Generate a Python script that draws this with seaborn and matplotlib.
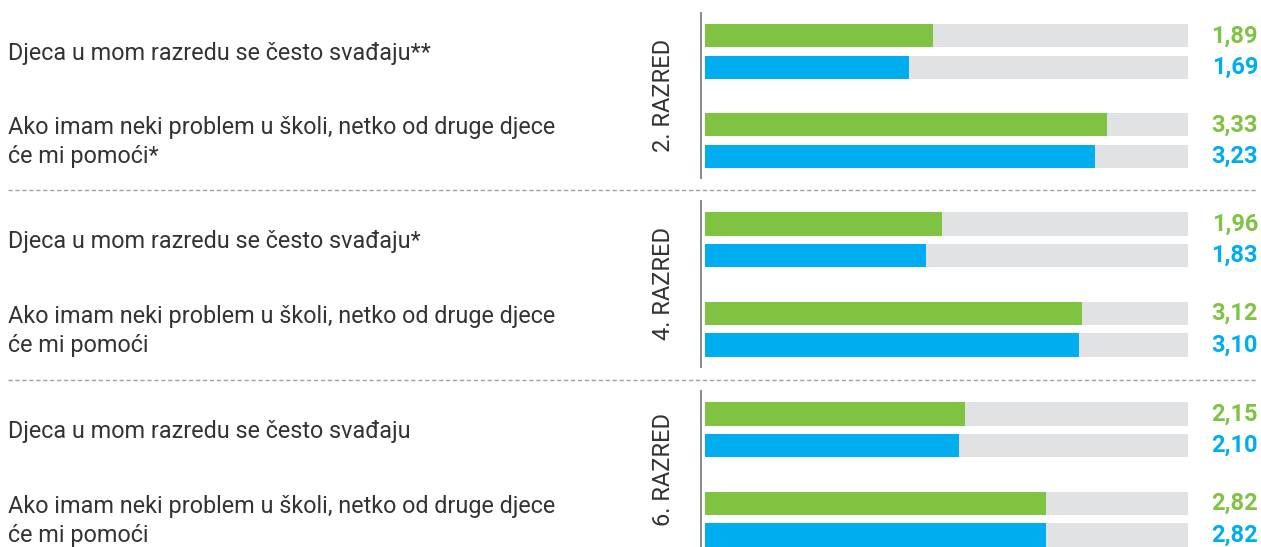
import matplotlib
matplotlib.use("Agg")
import matplotlib.pyplot as plt
import matplotlib.transforms as mtransforms
from matplotlib.lines import Line2D
import pandas as pd
import seaborn as sns

grades = ["2. RAZRED", "4. RAZRED", "6. RAZRED"]
questions = [
    ["Djeca u mom razredu se često svađaju**",
     "Ako imam neki problem u školi, netko od druge djece\nće mi pomoći*"],
    ["Djeca u mom razredu se često svađaju*",
     "Ako imam neki problem u školi, netko od druge djece\nće mi pomoći"],
    ["Djeca u mom razredu se često svađaju",
     "Ako imam neki problem u školi, netko od druge djece\nće mi pomoći"],
]
green_values = [[1.89, 3.33], [1.96, 3.12], [2.15, 2.82]]
blue_values = [[1.69, 3.23], [1.83, 3.10], [2.10, 2.82]]
series = ["A", "B"]
scale_max = 4

GREEN = "#80c242"
BLUE = "#00aeef"
GREY = "#e1e2e4"
TEXT = "#333333"

plt.rcParams["font.family"] = ["Roboto", "DejaVu Sans"]

W, H = 1261, 547
fig = plt.figure(figsize=(W / 100, H / 100), dpi=100)

# pixel layout of the three panels (top, bottom)
panels = [(13, 178), (201, 367), (391, 557)]
x_left, x_right = 701, 1188
x0_px = 705  # where value 0 sits
px_per_unit = (x_right - x0_px) / scale_max

for g, (top, bottom) in enumerate(panels):
    ax = fig.add_axes([x_left / W, 1 - bottom / H, (x_right - x_left) / W, (bottom - top) / H])
    df = pd.DataFrame({
        "question": [questions[g][0], questions[g][0], questions[g][1], questions[g][1]],
        "series": series * 2,
        "value": [green_values[g][0], blue_values[g][0], green_values[g][1], blue_values[g][1]],
    })
    df["full"] = scale_max

    # grey track behind, then the actual values
    sns.barplot(data=df, y="question", x="full", hue="series", orient="h",
                palette=[GREY, GREY], saturation=1, width=0.7, gap=0.26,
                legend=False, ax=ax)
    sns.barplot(data=df, y="question", x="value", hue="series", orient="h",
                palette=[GREEN, BLUE], saturation=1, width=0.7, gap=0.26,
                legend=False, ax=ax)

    ax.set_xlim(-(x0_px - x_left) / px_per_unit, scale_max)
    ax.set_ylim(1 + 37.5 / 89, -38.5 / 89)
    ax.set_xlabel("")
    ax.set_ylabel("")
    ax.set_xticks([])
    ax.set_yticks([])
    for side in ["top", "right", "bottom"]:
        ax.spines[side].set_visible(False)
    ax.spines["left"].set_color("#8a8a8a")
    ax.spines["left"].set_linewidth(1.4)

    # value labels
    x_txt = scale_max + (1258 - x_right) / px_per_unit
    for q in range(2):
        ax.text(x_txt, q - 0.175, f"{green_values[g][q]:.2f}".replace(".", ","),
                color=GREEN, fontsize=17, fontweight="bold", ha="right", va="center",
                clip_on=False)
        ax.text(x_txt, q + 0.175, f"{blue_values[g][q]:.2f}".replace(".", ","),
                color=BLUE, fontsize=17, fontweight="bold", ha="right", va="center",
                clip_on=False)

    # question labels on the left
    trans = mtransforms.blended_transform_factory(fig.transFigure, ax.transData)
    for q in range(2):
        ax.text(8 / W, q + 0.02, questions[g][q], transform=trans, ha="left", va="center",
                fontsize=16.8, color=TEXT, linespacing=1.35, clip_on=False)

    # grade label
    mid = (top + min(bottom, H)) / 2 if g == 2 else (top + bottom) / 2
    fig.text(664 / W, 1 - mid / H, grades[g], rotation=90, ha="center", va="center",
             fontsize=17, color=TEXT)

# dashed separators
for y in [190, 380]:
    fig.add_artist(Line2D([8 / W, 1258 / W], [1 - y / H, 1 - y / H], transform=fig.transFigure,
                          color="#a0a0a0", linewidth=1, linestyle=(0, (3, 2))))

fig.savefig("out.png", dpi=100)
